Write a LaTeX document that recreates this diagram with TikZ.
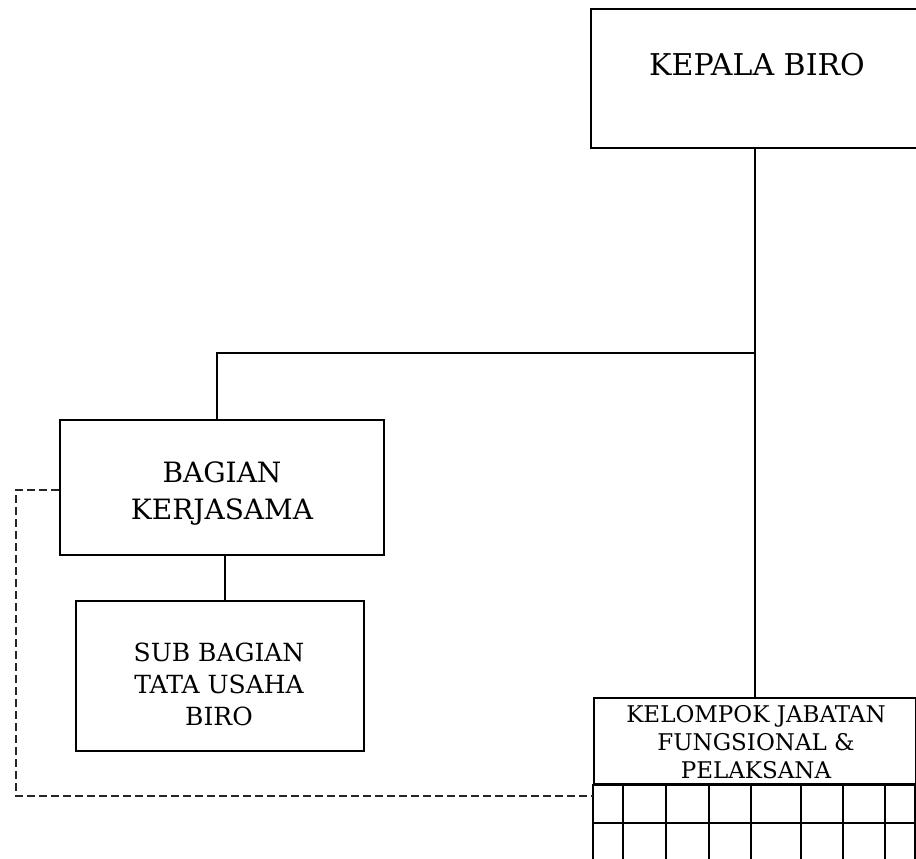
\documentclass[tikz,border=0pt]{standalone}
\usepackage{fontspec}
\setmainfont{DejaVu Serif}
\begin{document}
\begin{tikzpicture}[x=1pt,y=-1pt,
  box/.style={draw=black, line width=1.6pt, rectangle, inner sep=0pt, anchor=north west},
  conn/.style={draw=black, line width=1.2pt},
  gridline/.style={draw=black, line width=1.6pt},
  dash line/.style={draw=black!85, line width=1.1pt, dash pattern=on 8pt off 4pt},
  txt/.style={align=center, inner sep=0pt, text=black}]
\useasboundingbox (0,0) rectangle (916,859);
% boxes
\node[box, minimum width=345pt, minimum height=139pt] (kepala) at (590,8) {};
\node[txt, font=\fontsize{30}{34}\selectfont] (kepalat) at (757,65) {KEPALA BIRO};
\node[box, minimum width=324pt, minimum height=135pt] (bagian) at (59,419) {};
\node[txt, font=\fontsize{28}{37}\selectfont] (bagiant) at (222,494) {BAGIAN\\KERJASAMA};
\node[box, minimum width=288pt, minimum height=150pt] (sub) at (75,600) {};
\node[txt, font=\fontsize{25}{32}\selectfont] (subt) at (219,684) {SUB BAGIAN\\TATA USAHA\\BIRO};
\node[box, minimum width=322pt, minimum height=87pt] (kel) at (593,697) {};
\node[txt, font=\fontsize{23}{28}\selectfont] (kelt) at (756,742) {KELOMPOK JABATAN\\FUNGSIONAL \&\\PELAKSANA};
% grid under kelompok
\foreach \xa in {593,623,666,709,751,801,843,885,915}{
  \draw[gridline] (\xa,784) -- (\xa,880);
}
\draw[gridline] (593,823) -- (915,823);
\draw[gridline] (593,784) -- (915,784);
% connectors
\coordinate (j) at (755,353);
\coordinate (c1) at (217,353);
\draw[conn] (kepala.south -| j) -- (j);
\draw[conn] (j) -- (kel.north -| j);
\draw[conn] (j) -- (c1) -- (c1 |- bagian.north);
\coordinate (c2) at (225,554);
\draw[conn] (bagian.south -| c2) -- (sub.north -| c2);
\coordinate (d1) at (16,490);
\coordinate (d2) at (16,796);
\draw[dash line] (bagian.west |- d1) -- (d1) -- (d2) -- (d2 -| kel.west);
\end{tikzpicture}
\end{document}
